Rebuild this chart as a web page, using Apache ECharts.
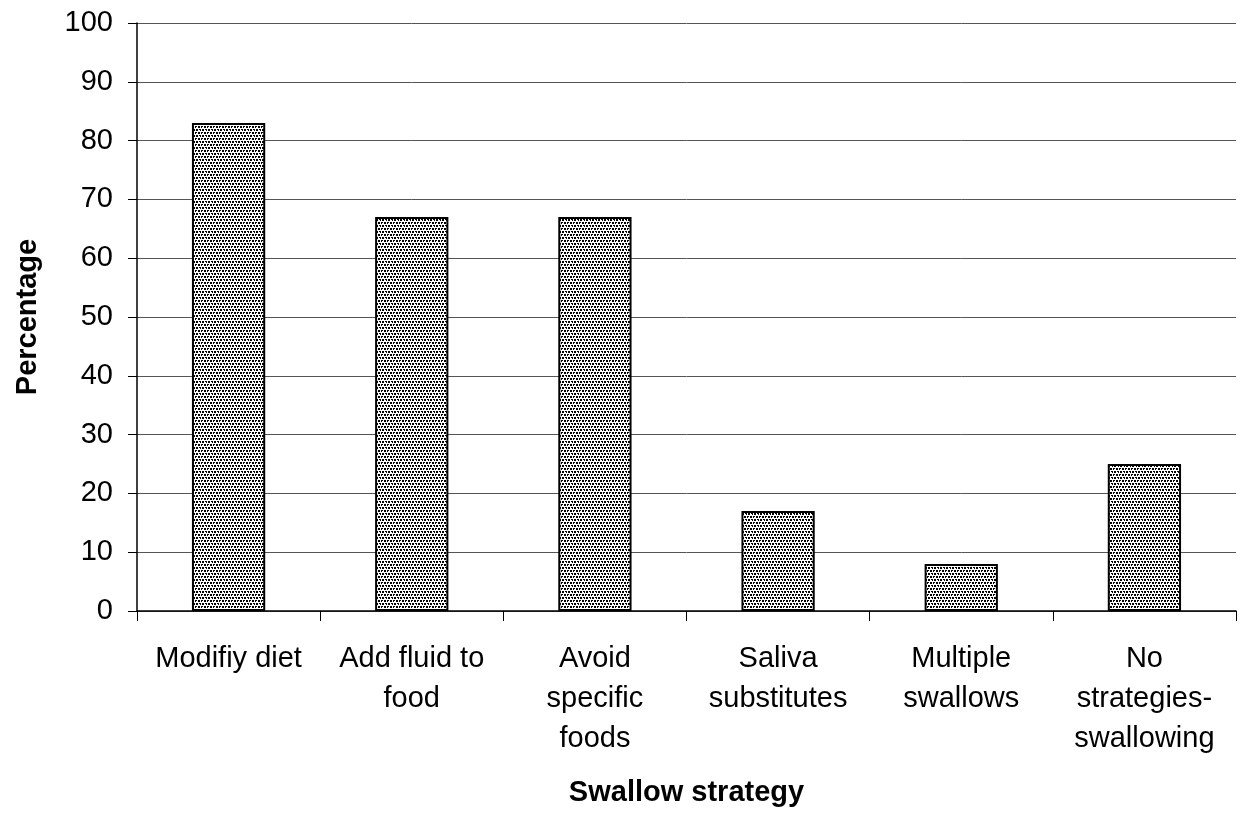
<!DOCTYPE html>
<html>
<head>
<meta charset="utf-8">
<style>
  html, body { margin: 0; padding: 0; background: #fff; }
  #chart { width: 1240px; height: 814px; }
</style>
<script src="https://cdn.jsdelivr.net/npm/echarts@6/dist/echarts.min.js"></script>
</head>
<body>
<div id="chart"></div>
<script>
// Swallow strategies reported, as percentage of respondents
var categories = [
  'Modifiy diet',
  'Add fluid to\nfood',
  'Avoid\nspecific\nfoods',
  'Saliva\nsubstitutes',
  'Multiple\nswallows',
  'No\nstrategies-\nswallowing'
];
var percentages = [83, 67, 67, 17, 8, 25];
var yTicks = [0, 10, 20, 30, 40, 50, 60, 70, 80, 90, 100];

// Stippled fill tile for the bars: staggered rows of small dark dots
function stippleTile() {
  var rows = [
    'XX.XX.',
    'XX.X..',
    '......',
    '.XX.XX',
    '..X.XX',
    '......'
  ];
  var c = document.createElement('canvas');
  c.width = 6; c.height = 6;
  var g = c.getContext('2d');
  g.fillStyle = '#ffffff';
  g.fillRect(0, 0, 6, 6);
  g.fillStyle = '#000000';
  for (var y = 0; y < rows.length; y++) {
    for (var x = 0; x < rows[y].length; x++) {
      if (rows[y][x] === 'X') g.fillRect(x, y, 1, 1);
    }
  }
  return c;
}

var chart = echarts.init(document.getElementById('chart'), null, { renderer: 'canvas' });
var font = '"Liberation Sans", Arial, sans-serif';

chart.setOption({
  animation: false,
  backgroundColor: '#ffffff',
  grid: { left: 137, right: 4, top: 23, bottom: 203, containLabel: false },
  xAxis: {
    type: 'category',
    data: categories,
    name: 'Swallow strategy',
    nameLocation: 'middle',
    nameGap: 167,
    nameTextStyle: { fontFamily: font, fontSize: 29, fontWeight: 'bold', color: '#000' },
    axisLine: { lineStyle: { color: '#000', width: 1.5 } },
    axisTick: { show: true, length: 10, lineStyle: { color: '#000', width: 1 } },
    axisLabel: {
      fontFamily: font, fontSize: 29, color: '#000',
      lineHeight: 40, margin: 28, interval: 0
    },
    splitLine: { show: false }
  },
  yAxis: {
    type: 'value',
    min: yTicks[0],
    max: yTicks[yTicks.length - 1],
    interval: 10,
    name: 'Percentage',
    nameLocation: 'middle',
    nameGap: 95,
    nameRotate: 90,
    nameTextStyle: { fontFamily: font, fontSize: 29, fontWeight: 'bold', color: '#000' },
    axisLine: { show: true, lineStyle: { color: '#000', width: 1.5 } },
    axisTick: { show: true, length: 9, lineStyle: { color: '#000', width: 1 } },
    axisLabel: { fontFamily: font, fontSize: 29, color: '#000', margin: 24 },
    splitLine: { show: true, lineStyle: { color: '#555', width: 1 } }
  },
  series: [{
    type: 'bar',
    data: percentages,
    barWidth: '40%',
    itemStyle: {
      color: { image: stippleTile(), repeat: 'repeat' },
      borderColor: '#000',
      borderWidth: 2
    }
  }]
});
</script>
</body>
</html>
